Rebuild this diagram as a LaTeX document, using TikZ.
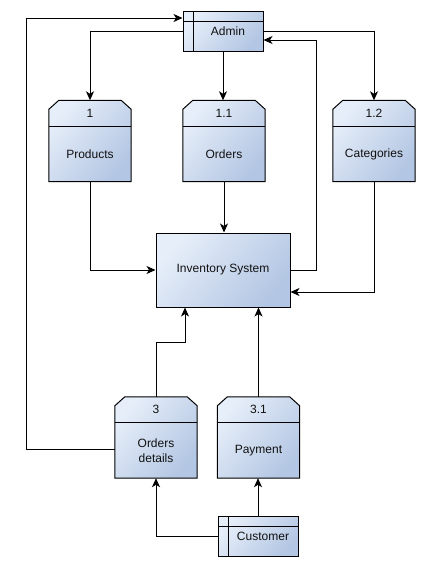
\documentclass[tikz,border=0pt]{standalone}
\usepackage{fontspec}
\setmainfont{Liberation Sans}
\usetikzlibrary{arrows.meta}
\definecolor{cL}{HTML}{E6EEF9}
\definecolor{cD}{HTML}{B3C6E3}
\definecolor{txt}{HTML}{111111}
\tikzset{
  shadefill/.style={top color=cL, bottom color=cD, shading angle=50},
  procbase/.style={rectangle, minimum width=82pt, minimum height=81pt, inner sep=0pt},
  procedge/.style={draw, line width=1pt, shadefill},
  entbox/.style={draw, line width=1pt, shadefill, rectangle,
    minimum width=80pt, minimum height=40pt, inner sep=0pt,
    font=\fontsize{12}{14}\selectfont, text=txt,
    path picture={\draw[line width=1pt] ([xshift=10pt]path picture bounding box.north west) -- ([xshift=10pt]path picture bounding box.south west);
      \draw[line width=1pt] ([yshift=-10pt]path picture bounding box.north west) -- ([yshift=-10pt]path picture bounding box.north east);}},
  sysbox/.style={draw, line width=1pt, shadefill, rectangle,
    minimum width=134pt, minimum height=74pt, inner sep=0pt,
    font=\fontsize{12}{14}\selectfont, text=txt},
  numlab/.style={anchor=center, font=\fontsize{12}{14}\selectfont, text=txt, inner sep=0pt},
  mainlab/.style={anchor=center, font=\fontsize{12}{15.5}\selectfont, text=txt, align=center, inner sep=0pt},
  flow/.style={line width=1pt, -{Stealth[length=9pt,width=8pt,inset=2.5pt]}},
}
\newcommand\procnode[5]{%
  \node[procbase] (#1) at (#2,#3) {};
  \path[procedge] ([xshift=10pt]#1.north west) -- ([xshift=-10pt]#1.north east)
     -- ([yshift=-9pt]#1.north east) -- (#1.south east) -- (#1.south west)
     -- ([yshift=-9pt]#1.north west) -- cycle;
  \draw[line width=1pt] ([yshift=-26pt]#1.north west) -- ([yshift=-26pt]#1.north east);
  \node[numlab] (#1n) at ([yshift=-13pt]#1.north) {#4};
  \node[mainlab] (#1t) at ([yshift=-13pt]#1.center) {#5};
}
\begin{document}
\begin{tikzpicture}[x=1pt,y=-1pt]
\useasboundingbox[fill=white] (0,0) rectangle (426,566);
\node[entbox] (admin) at (223,31) {\hspace*{10pt}Admin};
\procnode{p1}{90}{141}{1}{Products}
\procnode{p11}{224}{141}{1.1}{Orders}
\procnode{p12}{374}{141}{1.2}{Categories}
\node[sysbox] (inv) at (223,270) {Inventory System};
\procnode{p3}{156}{437.5}{3}{Orders\\details}
\procnode{p31}{258.5}{437.5}{3.1}{Payment}
\node[entbox] (cust) at (258,536) {\hspace*{10pt}Customer};

\draw[flow] ([yshift=-12pt]p3.west) -- ++(-88,0) |- ([yshift=13pt]admin.west);
\draw[flow] (admin.west) -| (p1.north);
\draw[flow] (admin.south) -- (admin.south |- p11.north);
\draw[flow] (admin.east) -| (p12.north);
\draw[flow] (p1.south) |- (inv.west);
\draw[flow] (p11.south) -- (p11.south |- inv.north);
\draw[flow] (p12.south) |- ([yshift=-22pt]inv.east);
\draw[flow] (inv.east) -- ++(26,0) |- ([yshift=-9pt]admin.east);
\draw[flow] (p3.north) -- ++(0,-54) -| ([xshift=-38pt]inv.south);
\draw[flow] (p31.north) -- (p31.north |- inv.south);
\draw[flow] (cust.west) -| (p3.south);
\draw[flow] (cust.north) -- (cust.north |- p31.south);
\end{tikzpicture}
\end{document}
